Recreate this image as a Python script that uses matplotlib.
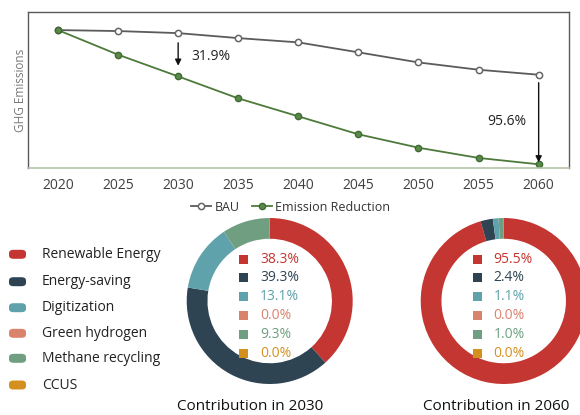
import matplotlib
matplotlib.use("Agg")
import matplotlib.pyplot as plt
from matplotlib.patches import FancyBboxPatch, Rectangle

plt.rcParams['font.family'] = ['Open Sans', 'DejaVu Sans']

# --- data ---------------------------------------------------------------
years = [2020, 2025, 2030, 2035, 2040, 2045, 2050, 2055, 2060]
bau = [100.0, 99.3, 97.8, 94.2, 91.1, 83.9, 76.6, 71.3, 67.7]
reduction = [100.0, 82.2, 66.5, 50.6, 37.6, 24.6, 14.9, 7.5, 2.9]

categories = ["Renewable Energy", "Energy-saving", "Digitization",
              "Green hydrogen", "Methane recycling", "CCUS"]
colors = ["#c43631", "#2e4453", "#5fa2ab", "#d9826c", "#6f9f80", "#d4901f"]
share_2030 = [38.3, 39.3, 13.1, 0.0, 9.3, 0.0]
share_2060 = [95.5, 2.4, 1.1, 0.0, 1.0, 0.0]

W, H = 580, 415
fig = plt.figure(figsize=(W / 100, H / 100), dpi=100)


def fx(px):
    return px / W


def fy(py):
    return 1 - py / H


# --- line chart ---------------------------------------------------------
ax = fig.add_axes([fx(28.3), fy(168.3), fx(569.3) - fx(28.3), fy(11.7) - fy(168.3)])
ax.plot(years, bau, color="#5b5b5b", lw=1.3, marker="o", ms=4.5,
        mfc="white", mec="#666666", mew=1.1, label="BAU")
ax.plot(years, reduction, color="#4d7a3a", lw=1.3, marker="o", ms=4.5,
        mfc="#5a8a4a", mec="#3f6b32", mew=1.0, label="Emission Reduction")
ax.set_xlim(2017.53, 2062.55)
ax.set_ylim(0, 113.3)
ax.set_xticks(years)
ax.tick_params(axis="x", length=0, pad=7, labelsize=10, labelcolor="#404040")
ax.tick_params(axis="y", left=False, labelleft=False)
ax.set_ylabel("GHG Emissions", fontsize=8.5, color="#777777", labelpad=1)
for side in ["left", "top", "right"]:
    ax.spines[side].set_color("#5a5a5a")
    ax.spines[side].set_linewidth(1.0)
ax.spines["bottom"].set_color("#b5c4a8")
ax.spines["bottom"].set_linewidth(1.2)

arrow = dict(arrowstyle="-|>", color="#111111", lw=1.0, mutation_scale=9,
             shrinkA=0, shrinkB=0)
ax.annotate("", xy=(2030, 74.2), xytext=(2030, 90.8), arrowprops=arrow)
ax.text(2031.1, 80.7, "31.9%", fontsize=10, color="#222222", va="center", ha="left")
ax.annotate("", xy=(2060, 4.3), xytext=(2060, 61.9), arrowprops=arrow)
ax.text(2059.0, 33.7, "95.6%", fontsize=10, color="#222222", va="center", ha="right")

fig.legend(*ax.get_legend_handles_labels(), loc="center", ncol=2,
           bbox_to_anchor=(fx(290.8), fy(207)), frameon=False, fontsize=9,
           handlelength=1.6, handletextpad=0.25, columnspacing=1.0,
           labelcolor="#333333")

# --- category legend ----------------------------------------------------
rows_y = [254.3, 281.7, 307.7, 333.3, 358.3, 385.0]
for lab, col, y in zip(categories, colors, rows_y):
    fig.patches.append(FancyBboxPatch((fx(9), fy(y + 4.5)), fx(17), fy(y - 4.5) - fy(y + 4.5),
                                      boxstyle="round,pad=0.0,rounding_size=0.008",
                                      transform=fig.transFigure, fc=col, ec="none"))
    fig.text(fx(41.7), fy(y), lab, fontsize=10, color="#222222", va="center", ha="left")

# --- donuts -------------------------------------------------------------
label_rows = [259.3, 277.7, 296.7, 315.7, 334.3, 353.3]


def donut(left_px, shares, sq_x, txt_x, title, title_x):
    dax = fig.add_axes([fx(left_px), fy(384), 166 / W, 166 / H])
    dax.pie(shares, colors=colors, startangle=90, counterclock=False, radius=1,
            wedgeprops=dict(width=0.25, linewidth=0))
    dax.set_xlim(-1, 1)
    dax.set_ylim(-1, 1)
    dax.set_aspect("equal")
    dax.axis("off")
    for val, col, y in zip(shares, colors, label_rows):
        fig.patches.append(Rectangle((fx(sq_x - 4.5), fy(y + 4.5)), fx(9), fy(y - 4.5) - fy(y + 4.5),
                                     transform=fig.transFigure, fc=col, ec="none"))
        fig.text(fx(txt_x), fy(y), f"{val:.1f}%", fontsize=10, color=col,
                 va="center", ha="left")
    fig.text(fx(title_x), fy(406.7), title, fontsize=11, color="#111111",
             va="center", ha="center")


donut(186.7, share_2030, 243.7, 260.0, "Contribution in 2030", 250.3)
donut(420.7, share_2060, 477.2, 493.3, "Contribution in 2060", 495.8)

fig.savefig("out.png", dpi=100)
